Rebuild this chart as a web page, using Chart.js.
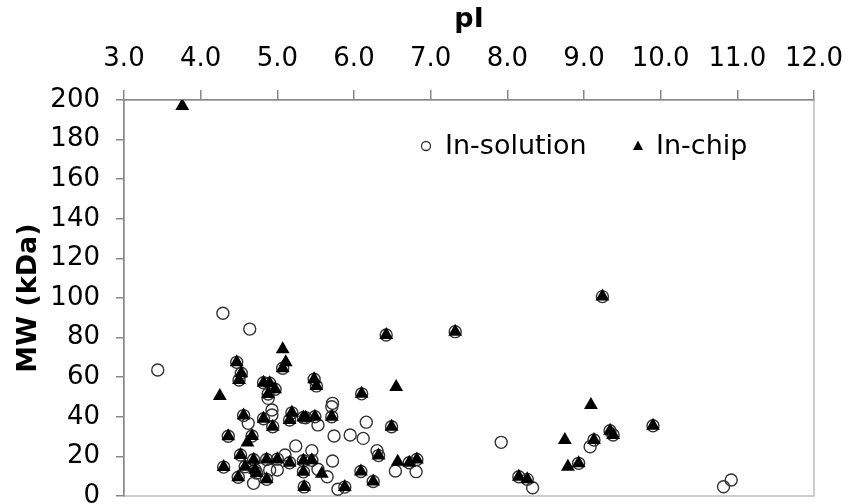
<!DOCTYPE html>
<html>
<head>
<meta charset="utf-8">
<script src="https://cdn.jsdelivr.net/npm/chart.js@4.4.0/dist/chart.umd.min.js"></script>
<style>
  html, body { margin: 0; padding: 0; background: #fff; }
  #wrap { width: 848px; height: 504px; position: relative; }
</style>
</head>
<body>
<div id="wrap"><canvas id="chart"></canvas></div>
<script>
// In-solution (open circles)
const solutionPI = [
  4.47, 4.53, 4.50, 4.82, 4.90, 4.97, 4.88, 5.07, 5.48, 5.51, 6.10, 6.42, 7.32, 9.24,
  4.56, 4.82, 4.94, 5.19, 5.16, 5.34, 5.37, 5.49, 5.71, 4.36, 4.67, 6.49,
  4.52, 4.69, 4.86, 5.00, 5.16, 5.34, 5.45, 4.30, 4.58, 4.71, 4.49, 4.73, 4.86,
  5.34, 5.35, 5.88, 6.09, 6.25, 6.32, 6.72, 6.82, 8.15, 8.26, 8.93, 9.13, 9.34, 9.38, 9.90,
  3.44, 4.29, 4.64, 4.88, 4.93, 4.93, 4.62, 5.72, 5.71, 5.53, 6.16, 5.74, 5.95, 6.12,
  5.24, 5.45, 5.10, 5.72, 4.90, 5.00, 4.69, 5.53, 5.65, 5.79, 6.30, 6.54, 6.81,
  7.92, 8.33, 9.08, 10.92, 10.82
];
const solutionMW = [
  67.5, 62, 58.6, 57.2, 57.0, 53.9, 51.5, 64.5, 59, 55.6, 51.6, 81.3, 83, 100.7,
  40.6, 39, 35, 42, 38.4, 39.7, 39.5, 40, 40, 30.2, 30.3, 35,
  20.7, 18.3, 18.4, 18.6, 16.8, 17.8, 18, 14.6, 14.8, 13.3, 9.5, 11.6, 8.4,
  12.2, 4.6, 4.5, 12.4, 7.3, 20.4, 16.8, 18.4, 9.7, 8.4, 16.5, 28.3, 33, 30.8, 35.5,
  63.6, 92.3, 84.3, 49.3, 43.4, 40.9, 36.7, 46.8, 45.1, 35.9, 37.3, 30.3, 30.8, 29.1,
  25.3, 22.9, 20.7, 17.7, 13.1, 13.1, 6.4, 13.5, 9.7, 3.4, 22.9, 12.6, 12.3,
  27.1, 4.2, 24.9, 8.1, 4.7
];

// In-chip (filled triangles)
const chipPI = [
  4.47, 4.53, 4.50, 4.82, 4.90, 4.97, 4.88, 5.07, 5.48, 5.51, 6.10, 6.42, 7.32, 9.24,
  4.56, 4.82, 4.94, 5.19, 5.16, 5.34, 5.37, 5.49, 5.71, 4.36, 4.67, 6.49,
  4.52, 4.69, 4.86, 5.00, 5.16, 5.34, 5.45, 4.30, 4.58, 4.71, 4.49, 4.73, 4.86,
  5.34, 5.35, 5.88, 6.09, 6.25, 6.32, 6.72, 6.82, 8.15, 8.26, 8.93, 9.13, 9.34, 9.38, 9.90,
  3.76, 4.25, 5.11, 5.07, 4.61, 5.58, 6.55, 6.57, 8.75, 8.79, 9.09
];
const chipMW = [
  67.5, 62, 58.6, 57.2, 57.0, 53.9, 51.5, 64.5, 59, 55.6, 51.6, 81.3, 83, 100.7,
  40.6, 39, 35, 42, 38.4, 39.7, 39.5, 40, 40, 30.2, 30.3, 35,
  20.7, 18.3, 18.4, 18.6, 16.8, 17.8, 18, 14.6, 14.8, 13.3, 9.5, 11.6, 8.4,
  12.2, 4.6, 4.5, 12.4, 7.3, 20.4, 16.8, 18.4, 9.7, 8.4, 16.5, 28.3, 33, 30.8, 35.5,
  197, 50.5, 67.5, 74.1, 27, 11.3, 55, 17.3, 28.3, 14.8, 46
];

const xTicks = [3, 4, 5, 6, 7, 8, 9, 10, 11, 12];
const yTicks = [0, 20, 40, 60, 80, 100, 120, 140, 160, 180, 200];

const FONT = 'DejaVu Sans';

function toPoints(xs, ys) {
  return xs.map((x, i) => ({ x: x, y: ys[i] }));
}

// light frame round the plot area (drawn before the axes)
const frame = {
  id: 'frame',
  beforeDraw(chart) {
    const { ctx, chartArea: a } = chart;
    ctx.save();
    ctx.strokeStyle = '#bdbdbd';
    ctx.lineWidth = 1.5;
    ctx.strokeRect(a.left, a.top, a.right - a.left, a.bottom - a.top);
    ctx.restore();
  }
};

// legend inside the plot area
const insideLegend = {
  id: 'insideLegend',
  afterDraw(chart) {
    const ctx = chart.ctx;
    const y = 146;
    ctx.save();
    ctx.font = '27px "' + FONT + '"';
    ctx.fillStyle = '#000';
    ctx.textBaseline = 'middle';

    ctx.beginPath();
    ctx.arc(426, y, 4.5, 0, Math.PI * 2);
    ctx.strokeStyle = '#333';
    ctx.lineWidth = 1.3;
    ctx.stroke();
    ctx.fillText('In-solution', 445, y + 1);

    ctx.beginPath();
    ctx.moveTo(638, y - 5.5);
    ctx.lineTo(643, y + 4);
    ctx.lineTo(633, y + 4);
    ctx.closePath();
    ctx.fill();
    ctx.fillText('In-chip', 656, y + 1);
    ctx.restore();
  }
};

new Chart(document.getElementById('chart'), {
  type: 'scatter',
  data: {
    datasets: [
      {
        label: 'In-chip',
        data: toPoints(chipPI, chipMW),
        pointStyle: 'triangle',
        radius: 8,
        hoverRadius: 8,
        backgroundColor: '#000',
        borderColor: '#000',
        borderWidth: 0,
        order: 0
      },
      {
        label: 'In-solution',
        data: toPoints(solutionPI, solutionMW),
        pointStyle: 'circle',
        radius: 6,
        hoverRadius: 6,
        backgroundColor: 'rgba(255,255,255,0)',
        borderColor: '#333',
        borderWidth: 1.4,
        order: 1
      }
    ]
  },
  options: {
    responsive: true,
    maintainAspectRatio: false,
    animation: false,
    layout: { padding: { left: 0, top: 0, right: 34, bottom: 8 } },
    plugins: {
      legend: { display: false },
      tooltip: { enabled: false }
    },
    scales: {
      x: {
        type: 'linear',
        position: 'top',
        min: 3,
        max: 12,
        afterBuildTicks: (s) => { s.ticks = xTicks.map(v => ({ value: v })); },
        afterFit: (s) => { s.height = 100; s.paddingLeft = 0; s.paddingRight = 0; },
        ticks: {
          color: '#000',
          font: { family: FONT, size: 26 },
          padding: 15,
          maxRotation: 0,
          callback: (v) => Number(v).toFixed(1)
        },
        grid: { drawOnChartArea: false, tickLength: 10, color: '#888', lineWidth: 1.5 },
        border: { color: '#888', width: 1.5 },
        title: {
          display: true,
          text: 'pI',
          color: '#000',
          font: { family: FONT, size: 27, weight: 'bold' },
          padding: { top: 4, bottom: 0 }
        }
      },
      y: {
        min: 0,
        max: 200,
        afterBuildTicks: (s) => { s.ticks = yTicks.map(v => ({ value: v })); },
        afterFit: (s) => { s.width = 124; s.paddingTop = 0; s.paddingBottom = 0; },
        ticks: {
          color: '#000',
          font: { family: FONT, size: 26 },
          padding: 16
        },
        grid: { drawOnChartArea: false, tickLength: 8, color: '#888', lineWidth: 1.5 },
        border: { color: '#888', width: 1.5 },
        title: {
          display: true,
          text: 'MW (kDa)',
          color: '#000',
          font: { family: FONT, size: 27, weight: 'bold' },
          padding: { top: 13, bottom: 0 }
        }
      }
    }
  },
  plugins: [frame, insideLegend]
});
</script>
</body>
</html>
